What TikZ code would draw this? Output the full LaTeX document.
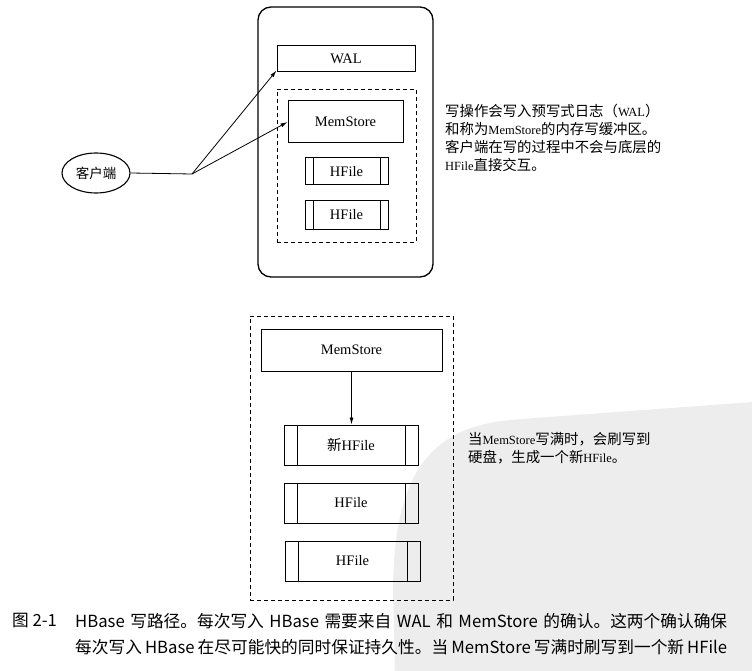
\documentclass[tikz,border=0pt]{standalone}
\usepackage{fontspec}
\setmainfont{Liberation Serif}
\newfontfamily\cjk{Noto Sans CJK SC}
\newcommand\zh[1]{{\cjk\fontsize{14.4}{18}\selectfont #1}}
\usetikzlibrary{arrows.meta,shapes.geometric}
\tikzset{
  x=1pt,y=-1pt,
  box/.style={draw,line width=1pt,inner sep=0pt,font=\fontsize{14.5}{16}\selectfont},
  hfile/.style={box,path picture={
      \draw[line width=1pt] ([xshift=#1]path picture bounding box.north west) -- ([xshift=#1]path picture bounding box.south west);
      \draw[line width=1pt] ([xshift=-#1]path picture bounding box.north east) -- ([xshift=-#1]path picture bounding box.south east);}},
  dbox/.style={draw,line width=0.9pt,dash pattern=on 4pt off 3pt,inner sep=0pt},
  arr/.style={line width=0.8pt,-{Latex[length=7pt,width=4pt]}},
  note/.style={anchor=north west,align=left,inner sep=0pt,font=\fontsize{12.5}{18}\selectfont},
  captext/.style={anchor=west,inner sep=0pt,font=\cjk\fontsize{16.7}{20}\selectfont}
}
\begin{document}
\begin{tikzpicture}
\useasboundingbox (0,0) rectangle (752,671);
% faint background watermark area
\fill[black!7] (395,671) -- (393,590) .. controls (394,480) and (425,428) .. (510,420) .. controls (600,413) and (700,406) .. (752,402) -- (752,671) -- cycle;
% top part
\node[draw,line width=1.3pt,rounded corners=13pt,minimum width=175pt,minimum height=270pt] (server) at (345.5,142) {};
\node[box,minimum width=138pt,minimum height=26pt] (wal) at (346,59) {WAL};
\node[dbox,minimum width=139pt,minimum height=153pt] (store1) at (346.5,165.5) {};
\node[box,minimum width=115pt,minimum height=42pt] (mem1) at (345.5,122) {MemStore};
\node[hfile=8pt,minimum width=83pt,minimum height=27pt] (hf1) at (346.5,171.5) {HFile};
\node[hfile=8pt,minimum width=83pt,minimum height=28pt] (hf2) at (346.5,215) {HFile};
\node[draw,ellipse,line width=1.1pt,minimum width=68pt,minimum height=40pt,inner sep=0pt,font=\cjk\fontsize{13.5}{15}\selectfont] (client) at (96,173) {客户端};
\coordinate (junc) at (192,174);
\draw[line width=0.8pt] (client.east) -- (junc);
\draw[arr] (junc) -- ([yshift=2pt]wal.south west);
\draw[arr] (junc) -- (mem1.west);
\node[note] (note1) at (445,104) {\zh{写操作会写入预写式日志（}WAL\zh{）}\\\zh{和称为}MemStore\zh{的内存写缓冲区。}\\\zh{客户端在写的过程中不会与底层的}\\HFile\zh{直接交互。}};
% bottom part
\node[dbox,minimum width=203pt,minimum height=284pt] (store2) at (351.5,458) {};
\node[box,minimum width=181pt,minimum height=42pt] (mem2) at (351.5,350) {MemStore};
\node[hfile=13pt,minimum width=134pt,minimum height=40pt] (nhf) at (351,445) {{\cjk 新}HFile};
\node[hfile=13pt,minimum width=134pt,minimum height=40pt] (hf3) at (351,503) {HFile};
\node[hfile=13pt,minimum width=135pt,minimum height=40pt] (hf4) at (352.5,561) {HFile};
\draw[arr] (mem2.south) -- (mem2.south |- nhf.north);
\node[note] (note2) at (468,432) {\zh{当}MemStore\zh{写满时，会刷写到}\\\zh{硬盘，生成一个新}HFile\zh{。}};
% caption
\node[captext] (capnum) at (12,621) {图 2-1};
\node[captext] (cap1) at (75,621) {\makebox[652pt][s]{HBase 写路径。每次写入 HBase 需要来自 WAL 和 MemStore 的确认。这两个确认确保}};
\node[captext] (cap2) at (75,647) {\makebox[652pt][s]{每次写入 HBase 在尽可能快的同时保证持久性。当 MemStore 写满时刷写到一个新 HFile}};
\end{tikzpicture}
\end{document}
